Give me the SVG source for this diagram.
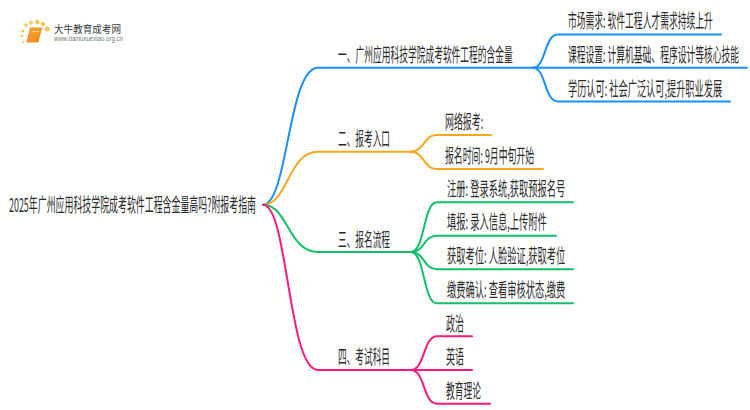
<svg xmlns="http://www.w3.org/2000/svg" width="750" height="410" viewBox="0 0 750 410">
<style>
text{font-family:"Noto Sans CJK SC","Liberation Sans",sans-serif;font-size:19px;fill:#2b2b2b}
.c{fill:none;stroke-linecap:round}
.b{stroke:#1890ff}.o{stroke:#f5a81c}.g{stroke:#12c06a}.p{stroke:#ff1a7c}
.m{stroke-width:2}.l{stroke-width:2}
.d{fill:#fbc64a}
</style>
<defs>
<linearGradient id="bk" x1="0" y1="0" x2="1" y2="1"><stop offset="0" stop-color="#fbb03b"/><stop offset="1" stop-color="#ee7d11"/></linearGradient>
<linearGradient id="rule" x1="0" y1="0" x2="1" y2="0"><stop offset="0" stop-color="#ddd" stop-opacity="0"/><stop offset=".4" stop-color="#ccc"/><stop offset="1" stop-color="#ddd" stop-opacity="0"/></linearGradient>
</defs>
<rect width="750" height="410" fill="#fff"/>
<g id="logo">
<circle class="d" cx="23" cy="31" r="1.500"/><circle class="d" cx="26" cy="25" r="1.800"/><circle class="d" cx="31" cy="22.700" r="2"/><circle class="d" cx="37.300" cy="22" r="2.200"/><circle class="d" cx="43" cy="24" r="2.200"/><circle class="d" cx="47.300" cy="29" r="2.500"/><circle class="d" cx="22" cy="36" r="1.300"/><circle class="d" cx="23" cy="42" r="1.100"/>
<path d="M30.500 28H41.500L38 42H27Z" fill="url(#bk)" stroke="#ee8f1a" stroke-width="1"/>
<path d="M32.500 31.500H39" stroke="#fde3a8" stroke-width="1"/>
<text x="54" y="32.500" textLength="67" lengthAdjust="spacingAndGlyphs" style="font-size:10px;fill:#3a3a3a">大牛教育成考网</text>
<path d="M50 33.500H134" stroke="url(#rule)" stroke-width="1"/>
<text x="54" y="41" textLength="69" lengthAdjust="spacingAndGlyphs" style="font-size:6.500px;fill:#777;font-family:'Liberation Sans',sans-serif">www.daniuxuexiao.org.cn</text>
</g>
<g id="connectors">
<path class="c b m" d="M263 204.700C288 204.700 288 67.700 318 67.700H533"/>
<path class="c o m" d="M263 204.700C288 204.700 288 151.700 318 151.700H413"/>
<path class="c g m" d="M263 204.700C288 204.700 288 252 318 252H411"/>
<path class="c p m" d="M263 204.700C288 204.700 288 370 318 370H411"/>
<path class="c b l" d="M533 67.700C546 67.700 544 34.500 558 34.500H721"/>
<path class="c b l" d="M533 67.700H747"/>
<path class="c b l" d="M533 67.700C546 67.700 544 101.500 558 101.500H730"/>
<path class="c o l" d="M411 151.700C424 151.700 424 135 436 135H491"/>
<path class="c o l" d="M411 151.700C424 151.700 424 169 436 169H543"/>
<path class="c g l" d="M411 252C425 252 423 202.300 437 202.300H573"/>
<path class="c g l" d="M411 252C425 252 423 235.700 437 235.700H556"/>
<path class="c g l" d="M411 252C425 252 423 269.300 437 269.300H573"/>
<path class="c g l" d="M411 252C425 252 423 303.300 437 303.300H573"/>
<path class="c p l" d="M411 370C425 370 423 336.300 437 336.300H472"/>
<path class="c p l" d="M411 370H472"/>
<path class="c p l" d="M411 370C425 370 423 403.700 437 403.700H490"/>
</g>
<g id="root"><text transform="translate(9 212) scale(.46 1)" textLength="537" lengthAdjust="spacingAndGlyphs">2025年广州应用科技学院成考软件工程含金量高吗?附报考指南</text></g>
<g id="b1"><text transform="translate(338 62) scale(.46 1)" textLength="380" lengthAdjust="spacingAndGlyphs">一、广州应用科技学院成考软件工程的含金量</text></g>
<g id="b1a"><text transform="translate(568 28) scale(.46 1)" textLength="315" lengthAdjust="spacingAndGlyphs">市场需求: 软件工程人才需求持续上升</text></g>
<g id="b1b"><text transform="translate(568 62) scale(.46 1)" textLength="372" lengthAdjust="spacingAndGlyphs">课程设置: 计算机基础、程序设计等核心技能</text></g>
<g id="b1c"><text transform="translate(568 96) scale(.46 1)" textLength="335" lengthAdjust="spacingAndGlyphs">学历认可: 社会广泛认可,提升职业发展</text></g>
<g id="b2"><text transform="translate(338 146) scale(.46 1)" textLength="113" lengthAdjust="spacingAndGlyphs">二、报考入口</text></g>
<g id="b2a"><text transform="translate(445 129) scale(.46 1)" textLength="83" lengthAdjust="spacingAndGlyphs">网络报考:</text></g>
<g id="b2b"><text transform="translate(445 163) scale(.46 1)" textLength="194" lengthAdjust="spacingAndGlyphs">报名时间: 9月中旬开始</text></g>
<g id="b3"><text transform="translate(338 247) scale(.46 1)" textLength="113" lengthAdjust="spacingAndGlyphs">三、报名流程</text></g>
<g id="b3a"><text transform="translate(447 196) scale(.46 1)" textLength="257" lengthAdjust="spacingAndGlyphs">注册: 登录系统,获取预报名号</text></g>
<g id="b3b"><text transform="translate(447 229) scale(.46 1)" textLength="217" lengthAdjust="spacingAndGlyphs">填报: 录入信息,上传附件</text></g>
<g id="b3c"><text transform="translate(447 263) scale(.46 1)" textLength="257" lengthAdjust="spacingAndGlyphs">获取考位: 人脸验证,获取考位</text></g>
<g id="b3d"><text transform="translate(447 297) scale(.46 1)" textLength="257" lengthAdjust="spacingAndGlyphs">缴费确认: 查看审核状态,缴费</text></g>
<g id="b4"><text transform="translate(338 364) scale(.46 1)" textLength="113" lengthAdjust="spacingAndGlyphs">四、考试科目</text></g>
<g id="b4a"><text transform="translate(446 331) scale(.46 1)" textLength="39" lengthAdjust="spacingAndGlyphs">政治</text></g>
<g id="b4b"><text transform="translate(446 364) scale(.46 1)" textLength="39" lengthAdjust="spacingAndGlyphs">英语</text></g>
<g id="b4c"><text transform="translate(446 398) scale(.46 1)" textLength="76" lengthAdjust="spacingAndGlyphs">教育理论</text></g>
</svg>
